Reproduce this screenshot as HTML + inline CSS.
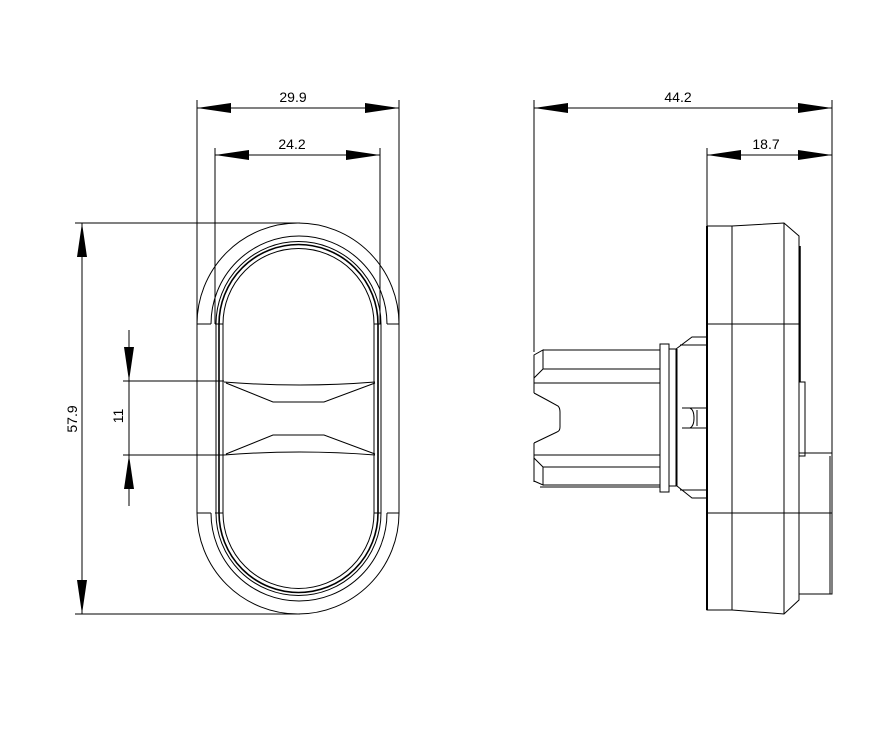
<!DOCTYPE html>
<html><head><style>
html,body{margin:0;padding:0;background:#fff;}
svg{display:block;}
text{font-family:"Liberation Sans",sans-serif;font-size:14px;fill:#000;}
</style></head><body>
<svg width="894" height="743" viewBox="0 0 894 743" xmlns="http://www.w3.org/2000/svg">
<g stroke="#000" stroke-width="1" fill="none">
<!-- LEFT VIEW dims -->
<line x1="197" y1="100" x2="197" y2="324"/>
<line x1="399" y1="100" x2="399" y2="324"/>
<line x1="197" y1="108" x2="399" y2="108"/>
<line x1="215" y1="148" x2="215" y2="324"/>
<line x1="380" y1="148" x2="380" y2="324"/>
<line x1="215" y1="155" x2="380" y2="155"/>
<line x1="75" y1="223" x2="300" y2="223"/>
<line x1="75" y1="614" x2="300" y2="614"/>
<line x1="82" y1="223" x2="82" y2="614"/>
<line x1="123" y1="381" x2="224" y2="381"/>
<line x1="123" y1="455" x2="224" y2="455"/>
<line x1="129" y1="330" x2="129" y2="506"/>
<!-- oval outer -->
<path d="M197 324 A101 101 0 0 1 399 324 M197 513 A101 101 0 0 0 399 513"/>
<path d="M211 324 A87 87 0 0 1 387 324 M211 513 A87 87 0 0 0 387 513"/>
<path d="M216 324 A82 82 0 0 1 381 324 V513 A82 82 0 0 1 216 513 Z"/>
<path d="M219 324 A79 79 0 0 1 378 324 V513 A79 79 0 0 1 219 513 Z" stroke-width="1.6"/>
<path d="M223 324 A75 75 0 0 1 374 324 V513 A75 75 0 0 1 223 513 Z"/>
<line x1="197" y1="324" x2="197" y2="513"/>
<line x1="399" y1="324" x2="399" y2="513"/>
<line x1="197" y1="324" x2="211" y2="324"/>
<line x1="387" y1="324" x2="399" y2="324"/>
<line x1="197" y1="513" x2="211" y2="513"/>
<line x1="387" y1="513" x2="399" y2="513"/>
<line x1="215" y1="324" x2="223" y2="324"/>
<line x1="374" y1="324" x2="381" y2="324"/>
<line x1="215" y1="513" x2="223" y2="513"/>
<line x1="374" y1="513" x2="381" y2="513"/>
<!-- button profiles -->
<path d="M224 382 Q300 388 375 382 M226 383 L273 402 L324 402 L375 383"/>
<path d="M224 455 Q300 449 375 455 M226 454 L273 435 L324 435 L375 454"/>
<!-- RIGHT VIEW dims -->
<line x1="534" y1="100" x2="534" y2="352"/>
<line x1="832" y1="100" x2="832" y2="453"/>
<line x1="534" y1="108" x2="832" y2="108"/>
<line x1="707" y1="148" x2="707" y2="228"/>
<line x1="707" y1="155" x2="832" y2="155"/>
<!-- body -->
<path d="M707 226 L732 226 L784 223 L799 236 L799 600 L784 614 L732 610 L707 610 Z"/>
<line x1="707" y1="226" x2="707" y2="610" stroke-width="2"/>
<line x1="732" y1="226" x2="732" y2="610"/>
<line x1="784" y1="223" x2="784" y2="614"/>
<line x1="707" y1="324" x2="799" y2="324"/>
<line x1="707" y1="513" x2="832" y2="513"/>
<line x1="800" y1="246" x2="800" y2="382" stroke-width="1.5"/>
<rect x="799" y="382" width="6" height="74"/>
<rect x="799" y="453" width="33" height="141"/>
<line x1="830" y1="456" x2="830" y2="594"/>
<!-- shaft -->
<path d="M543 350 L660 350 M543 369 L660 369 M534 383 L660 383 M534 455 L660 455 M543 467 L660 467 M543 485 L660 485 M540 487 L660 487"/>
<path d="M534 355 L543 350 L543 369 L534 378 Z"/>
<path d="M534 393 L547 400 L558 406 Q560 408 560 412 L560 427 Q560 431 557 432 L534 443"/>
<path d="M534 355 L534 393 M534 443 L534 482"/>
<path d="M534 458 L543 467 L543 485 L534 481"/>
<rect x="660" y="344" width="9" height="148"/>
<rect x="669" y="349" width="7" height="137"/>
<path d="M676 349 L692 337 L706 337 M680 345 L706 345 M677 349 L677 486 L692 498 L706 498 M680 490 L706 490"/>
<path d="M682 408 L690 408 Q694 410 694 418 Q694 426 690 428 L682 428 M690 408 L706 408 M690 428 L706 428 M697 410 L697 426"/>
</g>
<g fill="#000" stroke="none">
<polygon points="197,108 231,103 231,113"/>
<polygon points="399,108 365,103 365,113"/>
<polygon points="215,155 249,150 249,160"/>
<polygon points="380,155 346,150 346,160"/>
<polygon points="82,223 77,257 87,257"/>
<polygon points="82,614 77,580 87,580"/>
<polygon points="129,381 124,347 134,347"/>
<polygon points="129,455 124,489 134,489"/>
<polygon points="534,108 568,103 568,113"/>
<polygon points="832,108 798,103 798,113"/>
<polygon points="707,155 741,150 741,160"/>
<polygon points="832,155 798,150 798,160"/>
</g>
<text x="293" y="102" text-anchor="middle">29.9</text>
<text x="292" y="149" text-anchor="middle">24.2</text>
<text x="678" y="102" text-anchor="middle">44.2</text>
<text x="766" y="149" text-anchor="middle">18.7</text>
<text transform="translate(77,419) rotate(-90)" text-anchor="middle">57.9</text>
<text transform="translate(123,416) rotate(-90)" text-anchor="middle">11</text>
</svg>
</body></html>
